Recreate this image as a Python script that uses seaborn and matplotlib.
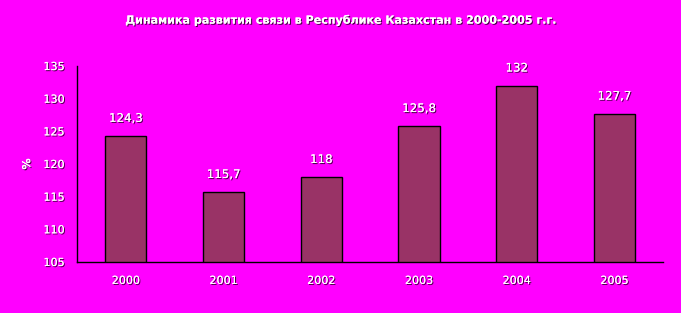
import matplotlib
matplotlib.use("Agg")
import matplotlib.pyplot as plt
import matplotlib.patheffects as pe
import seaborn as sns
import pandas as pd

years = ["2000", "2001", "2002", "2003", "2004", "2005"]
values = [124.3, 115.7, 118, 125.8, 132, 127.7]
labels = ["124,3", "115,7", "118", "125,8", "132", "127,7"]
title = "Динамика развития связи в Республике Казахстан в 2000-2005 г.г."

sns.set_style("white")
plt.rcParams['font.family'] = ['DejaVu Sans']

bg = "#FF00FF"
fig = plt.figure(figsize=(6.81, 3.13), dpi=100, facecolor=bg)
ax = fig.add_axes([0.113, 0.163, 0.861, 0.626])
ax.set_facecolor(bg)

df = pd.DataFrame({"year": years, "value": values})
sns.barplot(data=df, x="year", y="value", color="#993366", width=0.42,
            edgecolor="black", linewidth=1, saturation=1, ax=ax)

shadow = [pe.withSimplePatchShadow(offset=(0.8, -0.8), shadow_rgbFace="black", alpha=0.7), pe.Normal()]

ax.set_ylim(105, 135)
ax.set_yticks(range(105, 136, 5))
ax.set_xlim(-0.5, 5.5)
for s in ["top", "right"]:
    ax.spines[s].set_visible(False)
for s in ["left", "bottom"]:
    ax.spines[s].set_color("black")
    ax.spines[s].set_linewidth(1)

ax.set_xticks([i - 0.5 for i in range(1, 6)], minor=True)
ax.set_xticks(range(6))
ax.set_xticklabels(years)
ax.tick_params(axis="x", which="major", length=0, pad=10, labelsize=8, labelcolor="white")
ax.tick_params(axis="x", which="minor", length=4, width=1, color="black", direction="out")
ax.tick_params(axis="y", length=4, width=1, color="black", direction="out", labelsize=8, labelcolor="white", pad=5)
for t in ax.get_xticklabels() + ax.get_yticklabels():
    t.set_path_effects(shadow)

ax.set_xlabel("")
ax.set_ylabel("%", color="white", fontsize=8, fontweight="bold", labelpad=8)
ax.yaxis.label.set_path_effects(shadow)

for i, (v, lab) in enumerate(zip(values, labels)):
    ax.annotate(lab, (i, v), xytext=(0, 8), textcoords="offset points",
                ha="center", va="bottom", color="white", fontsize=8.5,
                path_effects=shadow)

fig.text(0.5, 0.935, title, ha="center", va="center", color="white",
         fontsize=8, fontweight="bold", path_effects=shadow)

fig.savefig("out.png", dpi=100, facecolor=bg)
